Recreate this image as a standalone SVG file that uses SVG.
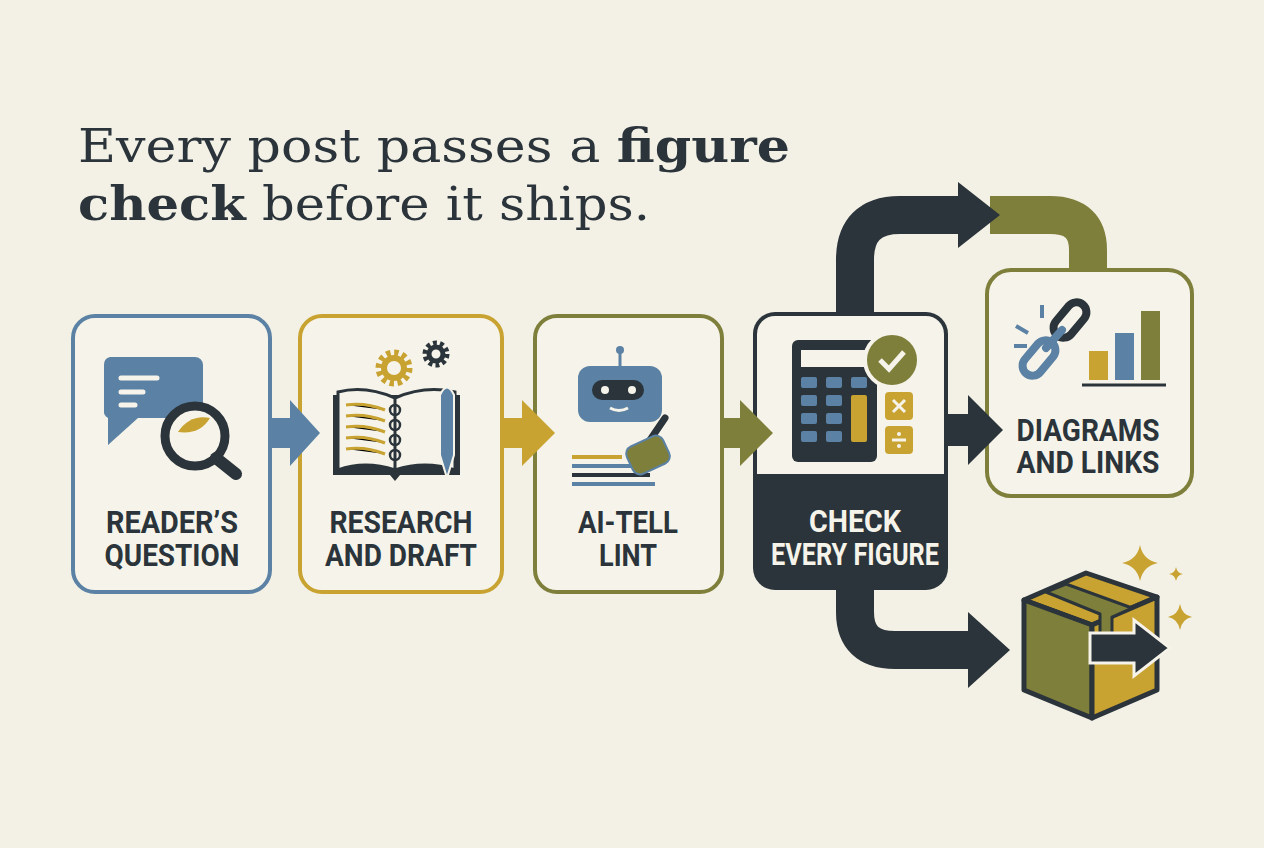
<svg xmlns="http://www.w3.org/2000/svg" width="1264" height="848" viewBox="0 0 1264 848">
<style>
.t{font-family:"DejaVu Serif","Liberation Serif",serif;font-size:47px;fill:#2b343a}
.b{font-weight:bold}
.l{font-family:Roboto,"Liberation Sans",sans-serif;font-weight:bold;font-size:31px;fill:#2b343a;text-anchor:middle}
.box{fill:#f6f4ea;stroke-width:4}
</style>
<rect width="1264" height="848" fill="#f3f1e6"/>
<text class="t" x="78" y="162" textLength="712" lengthAdjust="spacingAndGlyphs">Every post passes a <tspan class="b">figure</tspan></text>
<text class="t" x="78" y="220" textLength="572" lengthAdjust="spacingAndGlyphs"><tspan class="b">check</tspan> before it ships.</text>

<g id="n1">
 <rect class="box" x="73" y="316" width="197" height="276" rx="22" stroke="#5b82a4"/>
 <path d="M110,357 H195 a8,8 0 0 1 8,8 V410 a8,8 0 0 1 -8,8 H138 L108,445 V418 a8,8 0 0 1 -4,-8 V365 a8,8 0 0 1 6,-8z" fill="#5b82a4"/>
 <g stroke="#f6f4ea" stroke-width="5" stroke-linecap="round"><path d="M121,378 H157 M121,392 H143 M121,405 H135"/></g>
 <circle cx="195" cy="436" r="30" fill="#f6f4ea" stroke="#2b343a" stroke-width="9"/>
 <path d="M178,432 Q190,414 210,418 Q200,435 178,432z" fill="#c9a332"/>
 <line x1="216" y1="458" x2="236" y2="474" stroke="#2b343a" stroke-width="12" stroke-linecap="round"/>
 <text class="l" x="172" y="533" textLength="132" lengthAdjust="spacingAndGlyphs">READER’S</text>
 <text class="l" x="172" y="566" textLength="135" lengthAdjust="spacingAndGlyphs">QUESTION</text>
</g>

<g id="n2">
 <rect class="box" x="300" y="316" width="202" height="276" rx="22" stroke="#c9a332"/>
 <circle cx="394" cy="368" r="14" fill="none" stroke="#c9a332" stroke-width="9" stroke-dasharray="4 3.3"/>
 <circle cx="394" cy="368" r="10" fill="none" stroke="#c9a332" stroke-width="6"/>
 <circle cx="436" cy="354" r="10" fill="none" stroke="#2b343a" stroke-width="7" stroke-dasharray="3.5 2.8"/>
 <circle cx="436" cy="354" r="7" fill="none" stroke="#2b343a" stroke-width="5"/>
 <path d="M333,395 H460 V475 H400 L395,481 L390,475 H333z" fill="#2b343a"/>
 <path d="M338,392 Q365,385 395,398 V470 Q365,460 338,470z M395,398 Q425,385 455,392 V470 Q425,460 395,470z" fill="#f6f4ea" stroke="#2b343a" stroke-width="3"/>
 <g stroke="#c9a332" stroke-width="3"><path d="M346,405 Q365,402 385,410 M346,416 Q365,413 385,421 M346,427 Q365,424 385,432 M346,438 Q365,435 385,443 M346,449 Q365,446 385,454"/></g>
 <g fill="none" stroke="#2b343a" stroke-width="2.5"><circle cx="395" cy="410" r="5"/><circle cx="395" cy="425" r="5"/><circle cx="395" cy="440" r="5"/><circle cx="395" cy="455" r="5"/></g>
 <path d="M440,395 Q447,380 454,395 V455 L447,478 L440,455z" fill="#5b82a4" stroke="#f6f4ea" stroke-width="2"/>
 <text class="l" x="401" y="533" textLength="143" lengthAdjust="spacingAndGlyphs">RESEARCH</text>
 <text class="l" x="401" y="566" textLength="152" lengthAdjust="spacingAndGlyphs">AND DRAFT</text>
</g>

<g id="n3">
 <rect class="box" x="535" y="316" width="187" height="276" rx="22" stroke="#7f7f3c"/>
 <line x1="620" y1="350" x2="620" y2="366" stroke="#5b82a4" stroke-width="3"/>
 <circle cx="620" cy="350" r="4" fill="#5b82a4"/>
 <rect x="578" y="366" width="84" height="56" rx="12" fill="#5b82a4"/>
 <rect x="592" y="380" width="52" height="20" rx="10" fill="#2b343a"/>
 <circle cx="605" cy="390" r="4" fill="#f6f4ea"/><circle cx="632" cy="390" r="4" fill="#f6f4ea"/>
 <path d="M610,408 Q619,413 628,408" fill="none" stroke="#f6f4ea" stroke-width="3"/>
 <g stroke-width="4"><path d="M572,457 H622" stroke="#c9a332"/><path d="M572,466 H640" stroke="#5b82a4"/><path d="M572,475 H650" stroke="#2b343a"/><path d="M572,484 H655" stroke="#5b82a4"/></g>
 <line x1="650" y1="440" x2="665" y2="418" stroke="#2b343a" stroke-width="7" stroke-linecap="round"/>
 <rect x="628" y="440" width="40" height="30" rx="8" fill="#7f7f3c" stroke="#5b82a4" stroke-width="2" transform="rotate(-25 648 455)"/>
 <text class="l" x="628" y="533" textLength="100" lengthAdjust="spacingAndGlyphs">AI-TELL</text>
 <text class="l" x="628" y="566" textLength="58" lengthAdjust="spacingAndGlyphs">LINT</text>
</g>

<g id="n4">
 <rect x="753" y="312" width="195" height="278" rx="22" fill="#2b343a"/>
 <rect x="757" y="316" width="187" height="158" rx="18" fill="#f6f4ea"/>
 <rect x="757" y="450" width="187" height="24" fill="#f6f4ea"/>
 <rect x="792" y="340" width="85" height="122" rx="6" fill="#2b343a"/>
 <rect x="801" y="350" width="67" height="17" fill="#f6f4ea"/>
 <g fill="#5b82a4"><rect x="801" y="377" width="16" height="11" rx="2"/><rect x="826" y="377" width="16" height="11" rx="2"/><rect x="851" y="377" width="16" height="11" rx="2"/><rect x="801" y="395" width="16" height="11" rx="2"/><rect x="826" y="395" width="16" height="11" rx="2"/><rect x="801" y="413" width="16" height="11" rx="2"/><rect x="826" y="413" width="16" height="11" rx="2"/><rect x="801" y="431" width="16" height="11" rx="2"/><rect x="826" y="431" width="16" height="11" rx="2"/></g>
 <rect x="851" y="395" width="16" height="47" rx="2" fill="#c9a332"/>
 <circle cx="892" cy="360" r="27" fill="#7f7f3c" stroke="#f6f4ea" stroke-width="4"/>
 <path d="M880,360 L889,369 L904,352" fill="none" stroke="#f6f4ea" stroke-width="5"/>
 <rect x="885" y="392" width="28" height="28" rx="4" fill="#c9a332"/>
 <rect x="885" y="426" width="28" height="28" rx="4" fill="#c9a332"/>
 <path d="M893,400 L905,412 M905,400 L893,412 M892,440 H906" stroke="#f6f4ea" stroke-width="3"/>
 <circle cx="899" cy="434" r="2" fill="#f6f4ea"/><circle cx="899" cy="446" r="2" fill="#f6f4ea"/>
 <text class="l" x="855" y="532" style="fill:#f6f4ea" textLength="92" lengthAdjust="spacingAndGlyphs">CHECK</text>
 <text class="l" x="855" y="565" style="fill:#f6f4ea" textLength="168" lengthAdjust="spacingAndGlyphs">EVERY FIGURE</text>
</g>

<g id="n5">
 <rect class="box" x="987" y="270" width="205" height="226" rx="24" stroke="#7f7f3c"/>
 <g stroke="#5b82a4" stroke-width="4"><path d="M1042,305 V318 M1016,326 L1028,333 M1014,346 H1027"/></g>
 <rect x="1060" y="300" width="20" height="40" rx="10" fill="none" stroke="#2b343a" stroke-width="8" transform="rotate(40 1070 320)"/>
 <rect x="1029" y="338" width="20" height="40" rx="10" fill="none" stroke="#5b82a4" stroke-width="8" transform="rotate(40 1039 358)"/>
 <line x1="1046" y1="348" x2="1062" y2="330" stroke="#5b82a4" stroke-width="8" stroke-linecap="round"/>
 <rect x="1089" y="351" width="19" height="29" fill="#c9a332"/>
 <rect x="1115" y="333" width="19" height="47" fill="#5b82a4"/>
 <rect x="1141" y="311" width="19" height="69" fill="#7f7f3c"/>
 <line x1="1082" y1="385" x2="1166" y2="385" stroke="#2b343a" stroke-width="3"/>
 <text class="l" x="1088" y="441" textLength="143" lengthAdjust="spacingAndGlyphs">DIAGRAMS</text>
 <text class="l" x="1088" y="473" textLength="143" lengthAdjust="spacingAndGlyphs">AND LINKS</text>
</g>

<g id="n6">
 <polygon points="1024,600 1086,573 1157,597 1092,625" fill="#c9a332" stroke="#2b343a" stroke-width="5" stroke-linejoin="round"/>
 <polygon points="1024,600 1092,625 1092,718 1024,690" fill="#7f7f3c" stroke="#2b343a" stroke-width="5" stroke-linejoin="round"/>
 <polygon points="1092,625 1157,597 1157,690 1092,718" fill="#c9a332" stroke="#2b343a" stroke-width="5" stroke-linejoin="round"/>
 <polygon points="1046,592 1066,584 1132,608 1112,617 1112,642 1100,636 1100,614" fill="#7f7f3c" stroke="#2b343a" stroke-width="3" stroke-linejoin="round"/>
 <polygon points="1090,633 1134,633 1134,620 1170,648 1134,676 1134,663 1090,663" fill="#2b343a" stroke="#f6f4ea" stroke-width="3"/>
 <path d="M1140,545 Q1143,560 1158,563 Q1143,566 1140,581 Q1137,566 1122,563 Q1137,560 1140,545z" fill="#c9a332"/>
 <path d="M1176,567 Q1177,573 1183,574 Q1177,575 1176,581 Q1175,575 1169,574 Q1175,573 1176,567z" fill="#c9a332"/>
 <path d="M1180,604 Q1182,615 1192,617 Q1182,619 1180,630 Q1178,619 1168,617 Q1178,615 1180,604z" fill="#c9a332"/>
</g>

<g id="connectors">
 <polygon points="268,418 290,418 290,400 320,433 290,466 290,448 268,448" fill="#5b82a4"/>
 <polygon points="500,418 522,418 522,400 555,433 522,466 522,448 500,448" fill="#c9a332"/>
 <polygon points="720,418 740,418 740,400 773,433 740,466 740,448 720,448" fill="#7f7f3c"/>
 <polygon points="946,414 968,414 968,395 1003,430 968,465 968,446 946,446" fill="#2b343a"/>
 <path d="M990,215 H1050 Q1088,215 1088,250 V268" fill="none" stroke="#7f7f3c" stroke-width="38"/>
 <path d="M855,312 V260 Q855,215 900,215 H965" fill="none" stroke="#2b343a" stroke-width="38"/>
 <polygon points="958,182 1000,215 958,248" fill="#2b343a"/>
 <path d="M855,590 V612 Q855,650 895,650 H975" fill="none" stroke="#2b343a" stroke-width="38"/>
 <polygon points="968,612 1010,650 968,688" fill="#2b343a"/>
</g>
</svg>
